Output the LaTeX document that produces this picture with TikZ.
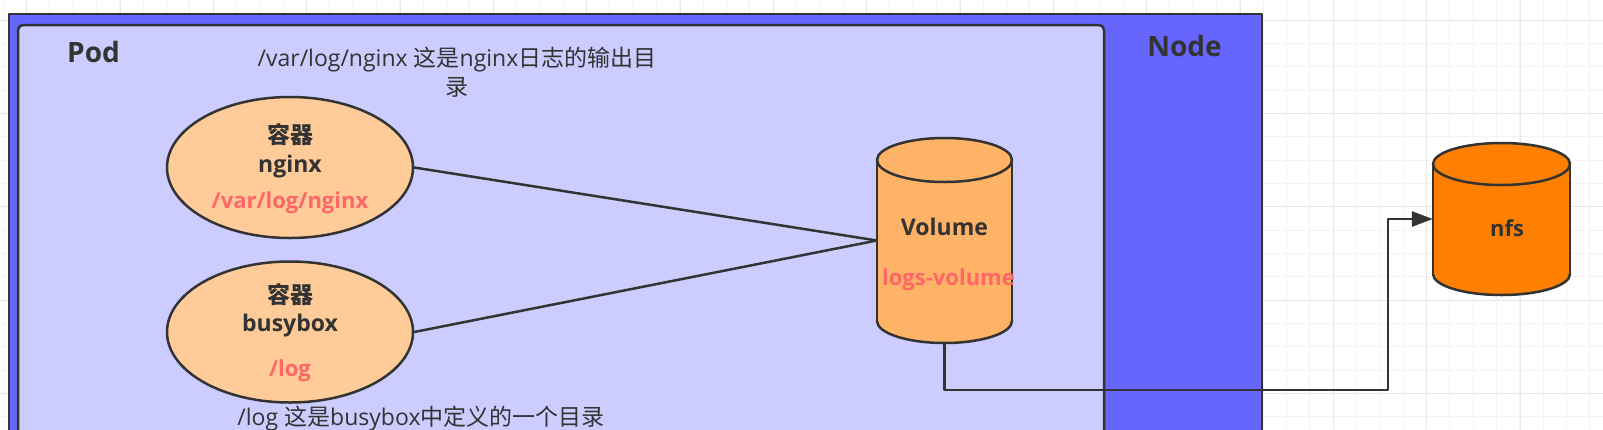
\documentclass[tikz,border=0pt]{standalone}
\usepackage{fontspec}
\setmainfont{Open Sans}
\newfontfamily\cjk{Noto Sans CJK SC}
\usetikzlibrary{arrows.meta,shapes.geometric}
\definecolor{nodeblue}{HTML}{6666FF}
\definecolor{podfill}{HTML}{CCCCFF}
\definecolor{peach}{HTML}{FFCC99}
\definecolor{volfill}{HTML}{FFB366}
\definecolor{nfsfill}{HTML}{FF8000}
\definecolor{redtxt}{HTML}{FF6666}
\definecolor{ink}{HTML}{333333}
\definecolor{gridmin}{HTML}{F3F3F3}
\definecolor{gridmaj}{HTML}{E7E7E7}
% left, top, right, bottom, y radius, fill
\newcommand{\drum}[6]{%
	\filldraw[fill=#6,draw=ink,line width=2.5pt] ({(#1+#3)/2},#4-#5) ellipse ({(#3-#1)/2} and #5);
	\fill[#6] (#1+1,#2+#5) rectangle (#3-1,#4-#5);
	\draw[ink,line width=2.5pt] (#1,#2+#5)--(#1,#4-#5) (#3,#2+#5)--(#3,#4-#5);
	\filldraw[fill=#6,draw=ink,line width=2.5pt] ({(#1+#3)/2},#2+#5) ellipse ({(#3-#1)/2} and #5);}
\begin{document}
\begin{tikzpicture}[x=1pt, y=-1pt, line join=round, line cap=round,
	>={Triangle[length=21pt,width=15pt]},
	box/.style={draw=ink, line width=2.5pt},
	pot/.style={ellipse, draw=ink, fill=peach, line width=2.5pt, minimum width=246pt, minimum height=141pt, inner sep=0pt},
	lbl/.style={font=\fontsize{23}{29}\selectfont\bfseries, text=ink, anchor=base, inner sep=0pt},
	dirtext/.style={font=\fontsize{22}{27}\selectfont\bfseries, text=redtxt, anchor=base, inner sep=0pt},
	note/.style={font=\fontsize{23}{29}\selectfont, text=ink, align=center, inner sep=0pt},
	big/.style={font=\fontsize{28}{34}\selectfont\bfseries, text=ink, anchor=base, inner sep=0pt},
	wire/.style={draw=ink, line width=2.5pt}]
	\def\W{1603} \def\H{429}
	\fill[white] (0,0) rectangle (\W,\H);
	\clip (0,0) rectangle (\W,\H);
	% grid
	\foreach \i in {0,...,68} \draw[gridmin,line width=1pt] ({3.333+23.333*\i},0)--++(0,\H);
	\foreach \j in {0,...,18} \draw[gridmin,line width=1pt] (0,{-3.333+23.333*\j})--++(\W,0);
	\foreach \i in {0,...,17} \draw[gridmaj,line width=1pt] ({26.667+93.333*\i},0)--++(0,\H);
	\foreach \j in {0,...,4} \draw[gridmaj,line width=1pt] (0,{20+93.333*\j})--++(\W,0);
	% node and pod
	\draw[box, fill=nodeblue] (9,14) rectangle (1262,450);
	\draw[box, fill=podfill, rounded corners=5pt] (18,25) rectangle (1104,450);
	\node[big] (podname) at (93.5,62.7) {Pod};
	\node[big] (nodename) at (1184.5,56.7) {Node};
	\node[note] (topnote) at (457,72.5) {/var/log/nginx {\cjk 这是}nginx{\cjk 日志的输出目}\\{\cjk 录}};
	\node[note, anchor=base] (botnote) at (421,425.7) {/log {\cjk 这是}busybox{\cjk 中定义的一个目录}};
	% containers
	\node[pot] (nginx) at (290,167.5) {};
	\node[lbl] (nginxa) at (290,143.7) {\cjk 容器};
	\node[lbl] (nginxb) at (290,172) {nginx};
	\node[dirtext] (nginxc) at (290,208) {/var/log/nginx};
	\node[pot] (busybox) at (290,332) {};
	\node[lbl] (busyboxa) at (290,303.7) {\cjk 容器};
	\node[lbl] (busyboxb) at (290,331) {busybox};
	\node[dirtext] (busyboxc) at (290,376) {/log};
	% volumes
	\drum{877}{138}{1012}{343}{22}{volfill}
	\node[inner sep=0pt, minimum width=135pt, minimum height=205pt] (vol) at (944.5,240.5) {};
	\node[lbl] (volname) at (944.5,235) {Volume};
	\node[dirtext] (voldir) at (948.5,285) {logs-volume};
	\drum{1433}{143}{1570}{295}{21}{nfsfill}
	\node[inner sep=0pt, minimum width=137pt, minimum height=152pt] (nfs) at (1501.5,219) {};
	\node[lbl, font=\fontsize{22}{27}\selectfont\bfseries] (nfsname) at (1507,236.7) {nfs};
	% connectors
	\coordinate (bend) at (1388,390);
	\draw[wire] (nginx.east)--(vol.west);
	\draw[wire] (busybox.east)--(vol.west);
	\draw[wire,->] (vol.south) |- (bend) |- (nfs.west);
\end{tikzpicture}
\end{document}
